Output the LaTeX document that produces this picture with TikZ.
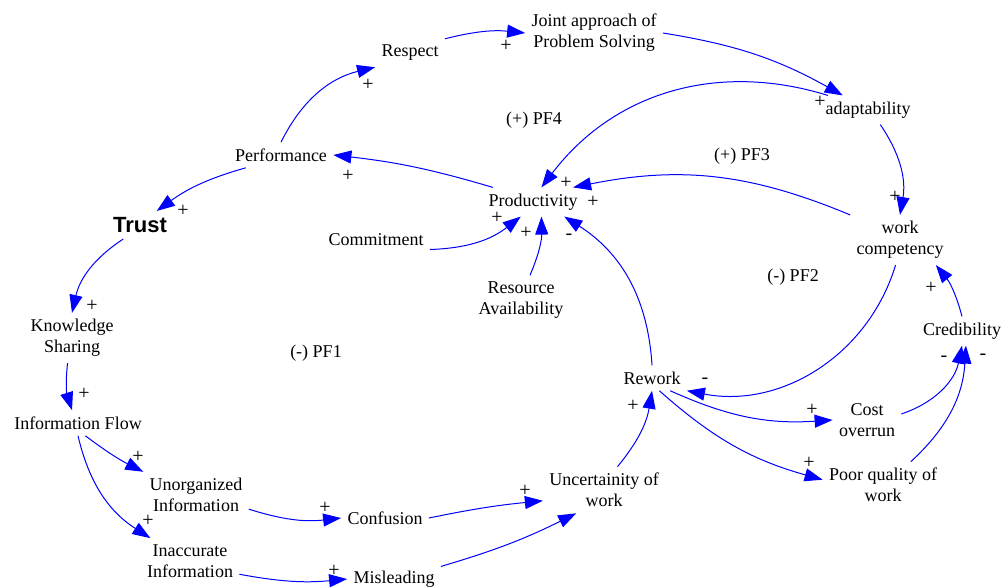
\documentclass[tikz,border=0pt]{standalone}
\usepackage{fontspec}
\setmainfont{Liberation Serif}
\newfontfamily\trustfont{Liberation Sans}
\usetikzlibrary{arrows.meta}

\tikzset{var/.style={inner sep=3pt,align=center,font=\rmfamily\fontsize{9}{10.5}\selectfont},
	link/.style={draw=blue,line width=0.5pt,-{Triangle[length=9pt,width=6.5pt]}},
	sgn/.style={inner sep=0pt,font=\rmfamily\fontsize{10}{11}\selectfont},
	loopname/.style={inner sep=1pt,font=\rmfamily\fontsize{9}{10}\selectfont}}

\begin{document}
\begin{tikzpicture}[x=0.5pt,y=-0.5pt]
		\useasboundingbox (0,0) rectangle (1005,588);
		%% variables
		\node[var] (resp) at (410,53) {Respect};
		\node[var] (joint) at (594,33) {Joint approach of\\Problem Solving};
		\node[var] (adapt) at (868,110) {adaptability};
		\node[var] (perf) at (281,155) {Performance};
		\node[var,font=\trustfont\fontsize{11}{12}\selectfont\bfseries] (trust) at (140,225) {Trust};
		\node[var] (prod) at (533,202) {Productivity};
		\node[var] (comm) at (376,240) {Commitment};
		\node[var] (work) at (900,240) {work\\competency};
		\node[var] (res) at (521,300) {Resource\\Availability};
		\node[var] (know) at (72,338) {Knowledge\\Sharing};
		\node[var] (cred) at (962,331) {Credibility};
		\node[var] (rework) at (652,378) {Rework};
		\node[var] (cost) at (867,420) {Cost\\overrun};
		\node[var] (info) at (78,423) {Information Flow};
		\node[var] (uncert) at (604,490) {Uncertainity of\\work};
		\node[var] (unorg) at (196,495) {Unorganized\\Information};
		\node[var] (poor) at (883,485) {Poor quality of\\work};
		\node[var] (conf) at (385,518) {Confusion};
		\node[var] (inacc) at (190,561) {Inaccurate\\Information};
		\node[var] (misl) at (394,579) {Misleading};

		%% loop names
		\node[loopname] (pf4) at (534,120) {(+) PF4};
		\node[loopname] (pf3) at (742,156) {(+) PF3};
		\node[loopname] (pf2) at (793,277) {(-) PF2};
		\node[loopname] (pf1) at (316,353) {(-) PF1};

		%% causal links
		\draw[link] (perf.north) to[bend left=25] (resp.south west);
		\draw[link] (resp.north east) to[bend left=10] (joint.west);
		\draw[link] (joint.east) to[bend left=10] (adapt.150);
		\draw[link] (adapt.160) to[bend right=35] (prod.60);
		\draw[link] (adapt.-50) to[bend left=22] (work.north);
		\draw[link] (work.north west) to[bend right=17] (prod.20);
		\draw[link] (prod.160) to[bend right=5] (perf.east);
		\draw[link] (perf.-160) to[bend right=10] (trust.40);
		\draw[link] (comm.-10) to[bend right=18] (prod.-130);
		\draw[link] (res.70) to[bend right=12] (prod.-60);
		\draw[link] (rework.north) to[bend right=27] (prod.-25);
		\draw[link] (trust.-140) to[bend right=22] (know.north);
		\draw[link] (know.-100) to[bend right=12] (info.115);
		\draw[link] (info.-60) to[bend right=5] (unorg.north west);
		\draw[link] (info.south) to[bend right=22] (inacc.150);
		\draw[link] (unorg.-15) to[bend right=12] (conf.west);
		\draw[link] (inacc.-15) to[bend right=8] (misl.west);
		\draw[link] (conf.east) to[bend left=3] (uncert.-170);
		\draw[link] (misl.15) to[bend right=5] (uncert.-140);
		\draw[link] (uncert.60) to[bend right=15] (rework.south);
		\draw[link] (work.-100) to[bend left=42] (rework.-20);
		\draw[link] (rework.-35) to[bend right=14] (cost.west);
		\draw[link] (rework.-60) to[bend right=13] (poor.175);
		\draw[link] (cost.10) to[bend right=30] (cred.south);
		\draw[link] (poor.40) to[bend right=22] (cred.-75);
		\draw[link] (cred.north) to[bend right=12] (work.-35);

		%% polarities
		\foreach \x/\y/\s [count=\i] in {368/85/+, 506/46/+, 820/102/+, 895/197/+,
			566/183/+, 593/202/+, 348/176/+, 183/211/+, 497/218/+, 526/233/+,
			569/237/-, 92/306/+, 84/394/+, 138/457/+, 148/521/+, 325/508/+,
			334/571/+, 525/491/+, 633/406/+, 705/381/-, 812/410/+, 809/463/+,
			944/359/-, 983/357/-, 931/288/+}
			\node[sgn] (sg\i) at (\x,\y) {\s};
	\end{tikzpicture}
\end{document}
